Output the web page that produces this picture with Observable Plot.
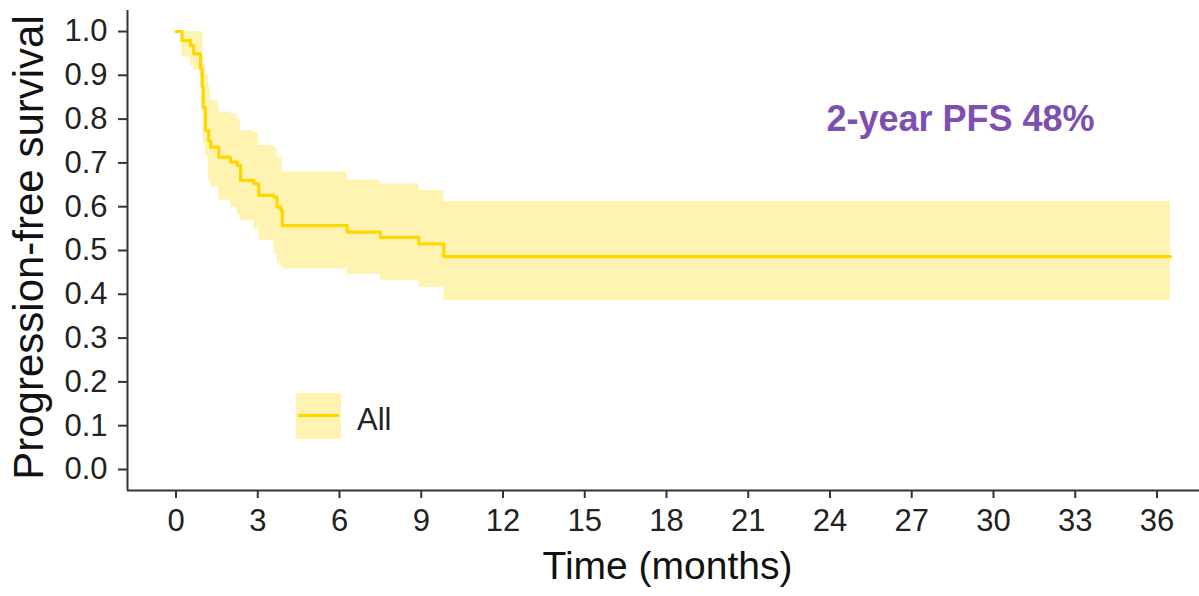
<!DOCTYPE html>
<html>
<head>
<meta charset="utf-8">
<script src="https://cdn.jsdelivr.net/npm/d3@7"></script>
<script src="https://cdn.jsdelivr.net/npm/@observablehq/plot@0.6"></script>
<style>
  body { margin: 0; background: #fff; }
  #wrap { position: relative; width: 1199px; height: 596px; font-family: "Liberation Sans", Arial, sans-serif; }
  #legend { position: absolute; left: 296px; top: 393px; display: flex; align-items: center; }
  #legend .key { position: relative; width: 45px; height: 46px; background: rgba(255, 215, 0, 0.3); }
  #legend .key::after { content: ""; position: absolute; left: 2px; right: 2px; top: 21px; height: 3px; background: #FFD700; }
  #legend .lab { margin-left: 16px; margin-top: 8px; font-size: 31px; color: #222; }
</style>
</head>
<body>
<div id="wrap"></div>
<script>
// Kaplan–Meier estimate (months) with 95% confidence band
const times = [0, 0.22, 0.53, 0.65, 0.90, 0.96, 1.00, 1.08, 1.20, 1.27, 1.57, 2.00, 2.25, 2.37, 2.86, 3.04, 3.59, 3.71, 3.85, 3.90, 6.28, 7.50, 8.91, 9.83, 36.5];
const surv  = [1.000, 0.979, 0.968, 0.949, 0.915, 0.873, 0.827, 0.774, 0.750, 0.736, 0.713, 0.702, 0.694, 0.660, 0.652, 0.626, 0.622, 0.599, 0.591, 0.557, 0.542, 0.530, 0.515, 0.486, 0.486];
const upper = [1.000, 1.000, 1.000, 1.000, 1.000, 0.995, 0.926, 0.900, 0.873, 0.842, 0.816, 0.812, 0.801, 0.774, 0.770, 0.740, 0.736, 0.713, 0.713, 0.679, 0.661, 0.652, 0.637, 0.612, 0.612];
const lower = [1.000, 0.941, 0.922, 0.911, 0.880, 0.812, 0.744, 0.713, 0.660, 0.645, 0.614, 0.599, 0.580, 0.568, 0.550, 0.523, 0.492, 0.470, 0.465, 0.458, 0.445, 0.432, 0.416, 0.386, 0.386];

const xTicks = [0, 3, 6, 9, 12, 15, 18, 21, 24, 27, 30, 33, 36];
const yTicks = [0, 0.1, 0.2, 0.3, 0.4, 0.5, 0.6, 0.7, 0.8, 0.9, 1.0];
const xLabel = "Time (months)";
const yLabel = "Progression-free survival";
const annotation = "2-year PFS 48%";
const legendLabel = "All";

const rows = times.map((t, i) => ({time: t, surv: surv[i], lower: lower[i], upper: upper[i]}));
const xDomain = [-1.78, 37.56];
const yDomain = [-0.048, 1.048];

const chart = Plot.plot({
  width: 1199,
  height: 596,
  marginLeft: 127,
  marginRight: 0,
  marginTop: 10,
  marginBottom: 106,
  style: {fontFamily: "'Liberation Sans', Arial, sans-serif", fontSize: "31px", background: "#fff", color: "#222"},
  x: {domain: xDomain},
  y: {domain: yDomain},
  marks: [
    Plot.areaY(rows, {x: "time", y1: "lower", y2: "upper", curve: "step-after", fill: "#FFD700", fillOpacity: 0.3}),
    Plot.lineY(rows, {x: "time", y: "surv", curve: "step-after", stroke: "#FFD700", strokeWidth: 3.2}),
    Plot.ruleX([xDomain[0]], {stroke: "#333", strokeWidth: 2}),
    Plot.ruleY([yDomain[0]], {stroke: "#333", strokeWidth: 2}),
    Plot.axisX({ticks: xTicks, tickSize: 8, tickPadding: 10, fontSize: 31, label: null, stroke: "#333", strokeWidth: 2}),
    Plot.axisY({ticks: yTicks, tickSize: 9, tickPadding: 11, fontSize: 31, label: null, tickFormat: d => d.toFixed(1), stroke: "#333", strokeWidth: 2}),
    Plot.text([xLabel], {frameAnchor: "bottom", lineAnchor: "middle", textAnchor: "middle", dx: 4, dy: 76, fontSize: 39, fill: "#111"}),
    Plot.text([yLabel], {frameAnchor: "left", lineAnchor: "middle", textAnchor: "middle", rotate: -90, dx: -98, dy: -3, fontSize: 42, fill: "#111"}),
    Plot.text([annotation], {frameAnchor: "top-left", lineAnchor: "middle", textAnchor: "middle", dx: 833, dy: 109, fontSize: 36, fontWeight: "bold", fill: "#7E4FB0"})
  ]
});

const wrap = document.getElementById("wrap");
wrap.appendChild(chart);
const legend = document.createElement("div");
legend.id = "legend";
legend.innerHTML = `<div class="key"></div><div class="lab">${legendLabel}</div>`;
wrap.appendChild(legend);
</script>
</body>
</html>
